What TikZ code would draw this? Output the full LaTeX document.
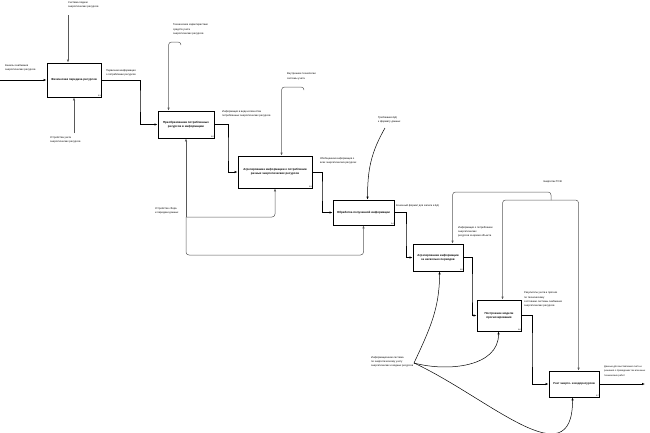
\documentclass[tikz,border=0pt]{standalone}
\usepackage{fontspec}
\setmainfont{Liberation Sans}
\usetikzlibrary{arrows.meta}

\begin{document}
\begin{tikzpicture}[x=1pt,y=-1pt,
    box/.style={draw, line width=0.9pt, fill=white, align=center, inner sep=1pt,
      font=\fontsize{2.9}{4}\selectfont\bfseries},
    lbl/.style={anchor=north west, align=left, inner sep=0pt, font=\fontsize{2.6}{4.1}\selectfont},
    num/.style={anchor=south east, inner sep=0.6pt, font=\fontsize{2}{2}\selectfont},
    flow/.style={line width=0.7pt, -{Latex[length=3pt,width=2.4pt]}},
    ctrl/.style={gray!70!black, line width=0.5pt, -{Latex[length=3pt,width=2.4pt]}, rounded corners=3pt}]
  \useasboundingbox (0,0) rectangle (650,432);

  % function boxes
  \foreach \n/\cx/\cy/\w/\h/\txt in {
      1/74/80/54/34/{Физическая передача ресурсов},
      2/186/124.5/56/27/{Преобразование потребленных\\ресурсов в информацию},
      3/275/172/74/32/{Агрегирование информации о потреблении\\разных энергетических ресурсов},
      4/363.5/212.5/61/25/{Обработка полученной информации},
      5/438/257.5/50/27/{Агрегирование информации\\за несколько периодов},
      6/499/315.5/44/31/{Построение модели\\прогнозирования},
      7/574/384/50/26/{Учет энерго- и водоресурсов}} {
    \node[box, minimum width=\w, minimum height=\h] (b\n) at (\cx,\cy) {\txt};
    \node[num] (n\n) at (b\n.south east) {A\n};
  }

  % labels
  \node[lbl] (lin) at (5,64) {Каналы снабжения\\энергетических ресурсов};
  \node[lbl] (lc1) at (68,1) {Система подачи\\энергетических ресурсов};
  \node[lbl] (lm1) at (50,136) {Устройства учета\\энергетических ресурсов};
  \node[lbl] (lo1) at (106,69) {Первичная информация\\о потреблении ресурсов};
  \node[lbl] (lc2) at (173,24) {Технические характеристики\\средств учета\\энергетических ресурсов};
  \node[lbl] (lo2) at (222,110) {Информация в виде количества\\потребленных энергетических ресурсов};
  \node[lbl] (lc3) at (287,73) {Внутренние технологии\\системы учета};
  \node[lbl] (lo3) at (320,157) {Обобщенная информация о\\всех энергетических ресурсах};
  \node[lbl] (lc4) at (378,116) {Требования БД\\к формату данных};
  \node[lbl] (lm2) at (155,207) {Устройство сбора\\и передачи данных};
  \node[lbl] (lo4) at (396,204) {Конечный формат для записи в БД};
  \node[lbl] (le) at (543,180) {Энергетик ТСЖ};
  \node[lbl] (lc5) at (458,226) {Информация о потреблении\\энергетических\\ресурсов за время объекта};
  \node[lbl] (lo6) at (524,292) {Результаты учета и прогноз\\по техническому\\состоянию системы снабжения\\энергетических ресурсов};
  \node[lbl, font=\fontsize{2.4}{4.1}\selectfont] (lo7) at (604,366) {Данные для выставления счета и\\решения о проведении тех или иных\\технических работ};
  \node[lbl] (lm7) at (371,356) {Информационная система\\по энергетическому учету\\энергетических и водных ресурсов};

  % free ends and bends
  \coordinate (in1) at (0,80);
  \coordinate (k1) at (68,15);
  \coordinate (m1) at (74,133);
  \coordinate (o1) at (140,100);
  \coordinate (k2) at (181,45);
  \coordinate (o2) at (228,150);
  \coordinate (k3) at (304,90);
  \coordinate (o3) at (322,190);
  \coordinate (k4) at (385,128);
  \coordinate (mm) at (186,217);
  \coordinate (o4) at (406,235);
  \coordinate (ej) at (551,200);
  \coordinate (o5) at (472,290);
  \coordinate (o6) at (532,350);
  \coordinate (out7) at (645,384);
  \coordinate (mj) at (414,363);

  % main flow
  \draw[flow] (in1) -- (b1.west);
  \draw[flow] (b1.east) -| (o1) |- (b2.west);
  \draw[flow] (b2.east) -| (o2) |- (b3.west);
  \draw[flow] (b3.east) -| (o3) |- (b4.west);
  \draw[flow] (b4.east) -| (o4) |- (b5.west);
  \draw[flow] (b5.east) -| (o5) |- (b6.west);
  \draw[flow] (b6.east) -| (o6) |- (b7.west);
  \draw[flow] (b7.east) -- (out7);

  % controls
  \draw[ctrl] (k1) -- (k1 |- b1.north);
  \draw[ctrl] (k2) -- ++(0,-3) -| ([xshift=11pt]b2.north west);
  \draw[ctrl] (k3) -- ++(0,-3) -| ([xshift=44pt]b3.north west);
  \draw[flow, line width=0.5pt] (k4) to[out=-120,in=90] ([xshift=35pt]b4.north west);
  \draw[ctrl] (ej) -- ++(0,-8) -| ([xshift=40pt]b5.north west);
  \draw[ctrl] (ej) -| ([xshift=26pt]b6.north west);
  \draw[ctrl] (ej) -| ([xshift=30pt]b7.north west);

  % mechanisms
  \draw[ctrl] (m1) -- (m1 |- b1.south);
  \draw[ctrl] (mm) -- (b2.south);
  \draw[ctrl] (mm) -| (b3.south);
  \draw[ctrl] (mm) -- ++(0,38) -| (b4.south);
  \draw[flow, line width=0.5pt] (mj) to[out=65,in=-90] ([xshift=27pt]b5.south west);
  \draw[flow, line width=0.5pt] (mj) to[out=-15,in=-90] ([xshift=22pt]b6.south west);
  \draw[flow, line width=0.5pt] (mj) to[out=-25,in=-90,looseness=1.3] ([xshift=24pt]b7.south west);
\end{tikzpicture}
\end{document}
